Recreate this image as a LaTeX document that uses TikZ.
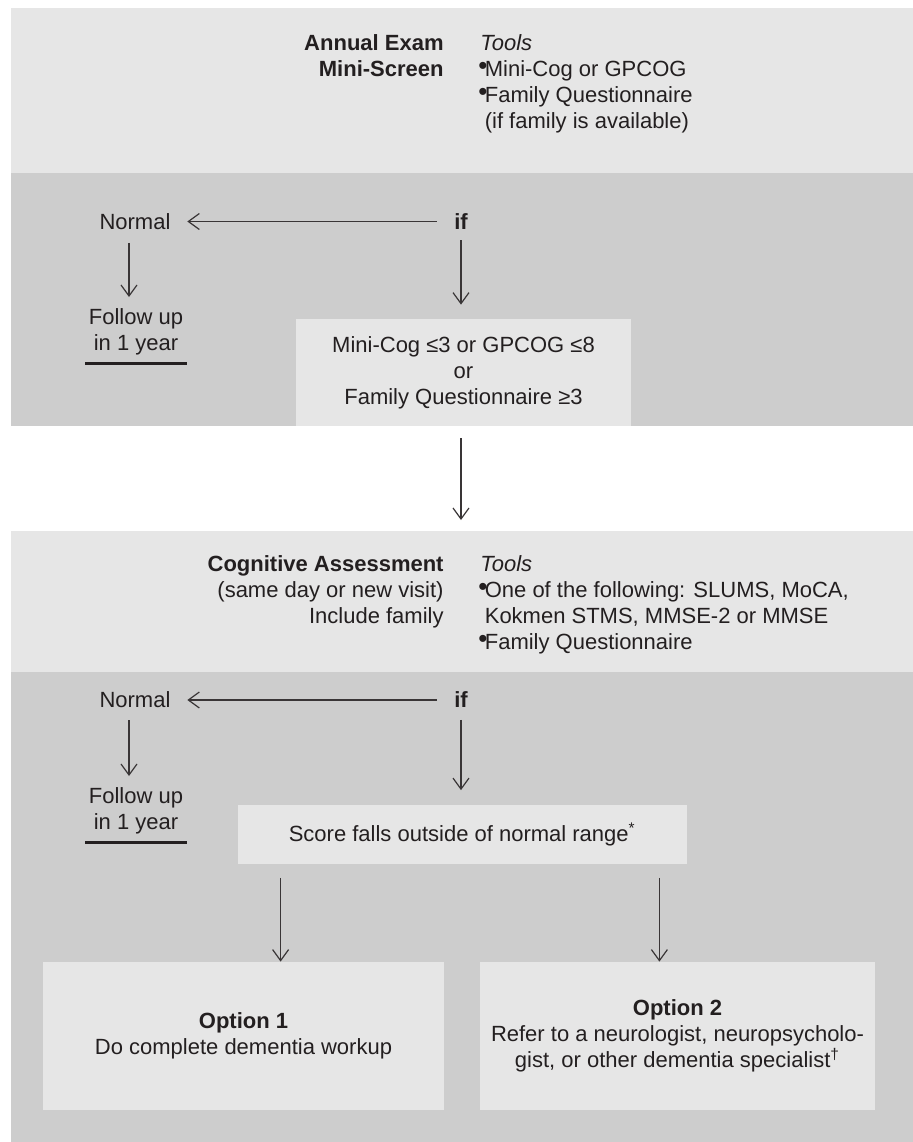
\documentclass[tikz,border=0pt]{standalone}
\usepackage{fontspec}
\setmainfont{Liberation Sans}
\usepackage{tikz}
\usetikzlibrary{arrows.meta}
\definecolor{bandlight}{RGB}{230,230,230}
\definecolor{banddark}{RGB}{205,205,205}
\definecolor{ink}{RGB}{35,31,32}
\newcommand{\tbul}{\raisebox{0.2ex}{\fontsize{13}{13}\selectfont\kern-0.08em\textbullet\kern-0.1em}}

\begin{document}
\begin{tikzpicture}[x=0.5pt, y=-0.5pt, every node/.style={inner sep=0pt, text=ink, font=\fontsize{11}{13}\selectfont}, boldtext/.style={font=\fontsize{11}{13}\selectfont\bfseries}, band/.style={fill=#1, anchor=north west, minimum width=451pt}, greybox/.style={fill=bandlight, minimum width=#1}, arr/.style={draw=ink!90, line width=0.6pt, -{Straight Barb[length=5.5pt,width=8pt]}}]
	\useasboundingbox (0,0) rectangle (913,1142);
	\node[band=bandlight, minimum height=82.5pt] (bandA) at (11,8) {};
	\node[band=banddark, minimum height=126.5pt] (bandB) at (11,173) {};
	\node[band=bandlight, minimum height=70.5pt] (bandC) at (11,531) {};
	\node[band=banddark, minimum height=235pt] (bandD) at (11,672) {};

	\node[boldtext, anchor=north east, align=right] (exam) at (444,34) {Annual Exam\\Mini-Screen};
	\node[anchor=north west, align=left] (toolsA) at (480,34) {\textit{Tools}\\\tbul Mini-Cog or GPCOG\\\tbul Family Questionnaire\\\hphantom{\tbul}(if family is available)};
	\node[boldtext] (ifA) at (461,221.5) {if};
	\node (normA) at (135,221.5) {Normal};
	\node[anchor=north, align=center] (fupA) at (136,308) {Follow up\\in 1 year};
	\node[greybox=167.5pt, minimum height=53.5pt, align=center] (critA) at (463.5,372.5) {Mini-Cog ≤3 or GPCOG ≤8\\or\\Family Questionnaire ≥3};
	\draw[arr, shorten <=8.5pt, shorten >=8.25pt] (ifA) -- (normA);
	\draw[arr, shorten <=5.25pt, shorten >=7pt] (ifA) -- (ifA |- critA.north);
	\draw[arr, shorten <=6.5pt, shorten >=5.5pt] ([xshift=-3pt]normA.south) -- ([xshift=-3pt]normA.south |- fupA.north);
	\draw[line width=1.5pt, ink] ([xshift=-1.75pt, yshift=-4.2pt]fupA.south west) -- ([xshift=1.75pt, yshift=-4.2pt]fupA.south east);
	\draw[arr, shorten <=6pt, shorten >=5.5pt] ([xshift=-1.25pt]critA.south) -- ([xshift=-1.25pt]critA.south |- bandC.north);

	\node[boldtext, anchor=north east, align=right] (cogn) at (444,555) {Cognitive Assessment\\\mdseries(same day or new visit)\\\mdseries Include family};
	\node[anchor=north west, align=left] (toolsB) at (480,555) {\textit{Tools}\\\tbul One of the following: SLUMS, MoCA,\\\hphantom{\tbul}Kokmen STMS, MMSE-2 or MMSE\\\tbul Family Questionnaire};
	\node[boldtext] (ifB) at (461,700) {if};
	\node (normB) at (135,700) {Normal};
	\node[anchor=north, align=center] (fupB) at (136,787) {Follow up\\in 1 year};
	\node[greybox=224.75pt, minimum height=29.5pt] (score) at (462.25,834) {Score falls outside of normal range\textsuperscript{*}};
	\node[greybox=200.5pt, minimum height=74pt, align=center] (optA) at (243.5,1036) {\textbf{Option 1}\\Do complete dementia workup};
	\node[greybox=197.5pt, minimum height=74pt, align=center] (optB) at (677.5,1036) {\textbf{Option 2}\\Refer to a neurologist, neuropsycholo-\\gist, or other dementia specialist\textsuperscript{\textdagger}};
	\draw[arr, shorten <=8.5pt, shorten >=8.25pt] (ifB) -- (normB);
	\draw[arr, shorten <=5.75pt, shorten >=7pt] (ifB) -- (ifB |- score.north);
	\draw[arr, shorten <=6pt, shorten >=5.5pt] ([xshift=-3pt]normB.south) -- ([xshift=-3pt]normB.south |- fupB.north);
	\draw[line width=1.5pt, ink] ([xshift=-1.75pt, yshift=-4.2pt]fupB.south west) -- ([xshift=1.75pt, yshift=-4.2pt]fupB.south east);
	\draw[arr, shorten <=7pt] ([xshift=21.75pt]score.south west) -- ([xshift=21.75pt]score.south west |- optA.north);
	\draw[arr, shorten <=7pt] ([xshift=-14pt]score.south east) -- ([xshift=-14pt]score.south east |- optB.north);
\end{tikzpicture}
\end{document}
